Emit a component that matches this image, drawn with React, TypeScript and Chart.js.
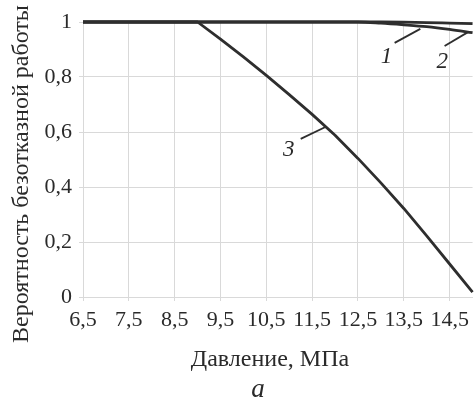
import React, { useEffect, useRef } from "react";
import { Chart, registerables } from "chart.js";

Chart.register(...registerables);

// X axis tick values (MPa) and Y tick values
const xTicks = [6.5, 7.5, 8.5, 9.5, 10.5, 11.5, 12.5, 13.5, 14.5];
const yTicks = [0, 0.2, 0.4, 0.6, 0.8, 1];

// Curve 1
const pressure1 = [6.5, 13, 13.5, 14, 14.5, 15];
const reliability1 = [1, 1, 0.9995, 0.998, 0.996, 0.994];

// Curve 2
const pressure2 = [6.5, 12.5, 13, 13.5, 14, 14.5, 15];
const reliability2 = [1, 1, 0.996, 0.99, 0.983, 0.973, 0.961];

// Curve 3
const pressure3 = [6.5, 9, 9.5, 10, 10.5, 11, 11.5, 12, 12.5, 13, 13.5, 14, 14.5, 15];
const reliability3 = [1, 1, 0.938, 0.873, 0.806, 0.736, 0.664, 0.588, 0.504, 0.415, 0.322, 0.222, 0.12, 0.018];

// Curve labels: text, label position, leader start, leader end (data units)
const curveLabels = ["1", "2", "3"];
const labelX = [13.12, 14.34, 10.99];
const labelY = [0.873, 0.855, 0.535];
const leaderX0 = [13.3, 14.39, 11.25];
const leaderY0 = [0.924, 0.913, 0.575];
const leaderX1 = [13.86, 14.91, 11.79];
const leaderY1 = [0.975, 0.964, 0.618];

const xTitle = "Давление, МПа";
const yTitle = "Вероятность безотказной работы";
const caption = "а";

const fmt = (v: number) => String(Math.round(v * 10) / 10).replace(".", ",");

const toXY = (xs: number[], ys: number[]) => xs.map((x, i) => ({ x, y: ys[i] }));

const LINE = "#2e2e2e";
const TEXT = "#2a2a2a";
const GRID = "#d9d9d9";
const SERIF = '"Liberation Serif", "DejaVu Serif", serif';

const textPlugin = {
  id: "texts",
  afterDraw(chart: any) {
    const { ctx, scales } = chart;
    const xs = scales.x;
    const ys = scales.y;
    ctx.save();
    ctx.fillStyle = TEXT;
    ctx.strokeStyle = LINE;
    // Y title
    ctx.font = `24px ${SERIF}`;
    ctx.textAlign = "center";
    ctx.textBaseline = "middle";
    ctx.save();
    ctx.translate(22, 174);
    ctx.rotate(-Math.PI / 2);
    ctx.fillText(yTitle, 0, 0);
    ctx.restore();
    // X title
    ctx.fillText(xTitle, 270, 360);
    // caption
    ctx.font = `italic 27px ${SERIF}`;
    ctx.fillText(caption, 258, 390);
    // curve labels
    ctx.font = `italic 23px ${SERIF}`;
    ctx.lineWidth = 1.8;
    curveLabels.forEach((t, i) => {
      ctx.fillText(t, xs.getPixelForValue(labelX[i]), ys.getPixelForValue(labelY[i]));
      ctx.beginPath();
      ctx.moveTo(xs.getPixelForValue(leaderX0[i]), ys.getPixelForValue(leaderY0[i]));
      ctx.lineTo(xs.getPixelForValue(leaderX1[i]), ys.getPixelForValue(leaderY1[i]));
      ctx.stroke();
    });
    ctx.restore();
  },
};

export default function App() {
  const ref = useRef<HTMLCanvasElement | null>(null);
  useEffect(() => {
    if (!ref.current) return;
    const ds = (xs: number[], ys: number[], smooth: boolean) => ({
      data: toXY(xs, ys),
      borderColor: LINE,
      borderWidth: 2.8,
      pointRadius: 0,
      cubicInterpolationMode: smooth ? ("monotone" as const) : ("default" as const),
      tension: 0,
      borderJoinStyle: "round" as const,
      clip: false as any,
      fill: false,
    });
    const chart = new Chart(ref.current, {
      type: "line",
      data: {
        datasets: [
          ds(pressure1, reliability1, true),
          ds(pressure2, reliability2, true),
          ds(pressure3, reliability3, false),
        ],
      },
      options: {
        animation: false,
        responsive: false,
        layout: { padding: { top: 22, right: 2, left: 0, bottom: 0 } },
        plugins: { legend: { display: false }, tooltip: { enabled: false }, title: { display: false } },
        scales: {
          x: {
            type: "linear",
            min: 6.5,
            max: 15,
            afterBuildTicks: (axis: any) => {
              axis.ticks = xTicks.map((v) => ({ value: v }));
            },
            afterFit: (scale: any) => {
              scale.height = 104;
            },
            ticks: {
              autoSkip: false,
              maxRotation: 0,
              padding: 6,
              color: TEXT,
              font: { family: SERIF, size: 22 },
              callback: (v: any) => fmt(Number(v)),
            },
            grid: { color: GRID, tickLength: 4, lineWidth: 1 },
            border: { color: GRID },
          },
          y: {
            type: "linear",
            min: 0,
            max: 1,
            afterBuildTicks: (axis: any) => {
              axis.ticks = yTicks.map((v) => ({ value: v }));
            },
            afterFit: (scale: any) => {
              scale.width = 83;
            },
            ticks: {
              padding: 7,
              color: TEXT,
              font: { family: SERIF, size: 22 },
              callback: (v: any) => fmt(Number(v)),
            },
            grid: { color: GRID, tickLength: 4, lineWidth: 1 },
            border: { color: GRID },
          },
        },
      },
      plugins: [textPlugin],
    });
    return () => chart.destroy();
  }, []);
  return (
    <canvas
      ref={ref}
      width={475}
      height={401}
      style={{ position: "fixed", left: 0, top: 0, display: "block", background: "#fff" }}
    />
  );
}
